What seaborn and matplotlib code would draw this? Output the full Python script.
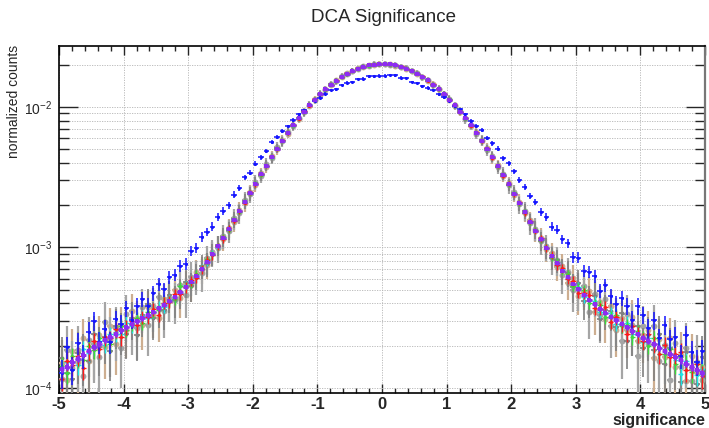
import numpy as np
import pandas as pd
import matplotlib
matplotlib.use("Agg")
import matplotlib.pyplot as plt
import seaborn as sns
from matplotlib.ticker import MultipleLocator, LogLocator, NullFormatter, LogFormatterSciNotation

# Histogram binning: 120 bins on [-5, 5]
X_LO, X_HI, N_BINS = -5.0, 5.0, 120
UNIT = 1e-4  # contents below are in units of 1e-4 (normalized counts)

violet = [1.36, 1.42, 1.53, 1.62, 1.73, 1.83, 1.95, 2.06, 2.18, 2.30, 2.42, 2.57, 2.70, 2.85, 2.99,
          3.13, 3.30, 3.48, 3.68, 3.92, 4.17, 4.46, 4.82, 5.22, 5.72, 6.30, 7.03, 7.90, 8.95, 10.2,
          11.7, 13.5, 15.6, 18.1, 21.1, 24.5, 28.5, 33.1, 38.2, 44.1, 50.6, 57.7, 65.5, 74.0, 83.0,
          92.6, 102.6, 112.8, 123.3, 133.8, 144.1, 154.1, 163.6, 172.4, 180.4, 187.2, 193.0, 197.4, 200.4, 201.9,
          202.3, 200.9, 197.8, 193.3, 187.6, 180.9, 172.8, 164.0, 154.4, 144.3, 134.0, 123.5, 113.0, 102.7, 92.7,
          83.1, 74.0, 65.4, 57.6, 50.4, 43.9, 38.0, 32.8, 28.2, 24.2, 20.8, 17.8, 15.3, 13.2, 11.4,
          9.95, 8.72, 7.70, 6.85, 6.12, 5.53, 5.03, 4.61, 4.25, 3.94, 3.67, 3.43, 3.22, 3.03, 2.86,
          2.70, 2.55, 2.41, 2.28, 2.16, 2.05, 1.94, 1.84, 1.75, 1.66, 1.57, 1.49, 1.41, 1.34, 1.27]

blue = [1.28, 1.96, 1.35, 2.09, 1.70, 2.52, 3.00, 2.12, 2.63, 2.12, 3.08, 2.85, 3.68, 3.06, 3.83,
        4.29, 3.86, 4.73, 5.49, 5.04, 6.15, 6.40, 7.38, 7.68, 9.45, 9.89, 11.9, 12.9, 14.1, 16.6,
        18.2, 20.0, 23.8, 26.5, 31.6, 34.1, 39.4, 44.0, 48.5, 56.1, 61.0, 67.7, 72.8, 80.5, 88.9,
        95.0, 103, 111, 116, 124, 132, 134, 143, 149, 151, 158, 159, 165, 165, 167,
        167, 169, 168, 162, 161, 151, 148, 140, 137, 132, 123, 117, 111, 101, 96,
        88.9, 79.7, 73.5, 68.3, 60.4, 55.0, 50.5, 43.1, 39.8, 34.8, 30.4, 27.0, 23.3, 21.1, 17.9,
        16.5, 14.1, 13.4, 11.4, 10.7, 8.55, 8.48, 6.82, 6.72, 6.26, 4.93, 5.39, 4.50, 3.99, 4.37,
        3.83, 3.06, 3.84, 3.30, 2.66, 3.05, 2.25, 2.82, 2.22, 2.31, 1.70, 2.38, 1.80, 1.53, 1.84]

gray = [1.16, 1.85, 1.38, 1.86, 1.21, 2.20, 2.05, 1.65, 2.94, 2.19, 2.66, 1.93, 3.38, 2.85, 2.69,
        3.76, 2.81, 3.83, 4.42, 3.53, 4.38, 4.24, 5.40, 4.59, 6.18, 6.30, 6.54, 8.37, 9.31, 9.89,
        12.1, 13.2, 16.1, 17.6, 21.8, 24.0, 29.3, 32.4, 39.0, 43.5, 51.5, 56.9, 66.4, 73.1, 84.0,
        91.8, 103.5, 111.6, 124.4, 132.5, 145.2, 152.8, 164.9, 171.1, 181.6, 186.0, 194.2, 196.5, 201.3, 200.8,
        203.4, 199.6, 198.9, 192.1, 188.7, 179.6, 174.0, 162.7, 155.6, 143.1, 135.2, 122.4, 114.1, 101.6, 93.6,
        82.2, 74.9, 64.6, 58.3, 49.7, 44.5, 37.4, 33.4, 27.7, 24.7, 20.3, 18.3, 14.9, 13.6, 11.1,
        10.2, 8.37, 8.16, 6.37, 6.73, 4.98, 5.03, 5.30, 3.49, 4.65, 3.30, 4.29, 2.74, 3.18, 2.15,
        3.38, 2.81, 1.69, 2.74, 2.05, 2.77, 1.55, 2.02, 1.14, 2.08, 1.41, 1.94, 1.13, 1.54, 1.14]

tan = [1.50, 1.14, 1.84, 1.54, 2.25, 1.56, 1.95, 2.37, 1.96, 2.76, 2.06, 2.83, 2.57, 3.56, 3.14,
       2.82, 3.80, 3.31, 3.13, 4.31, 4.17, 5.00, 4.34, 5.48, 5.43, 6.68, 7.03, 7.51, 9.22, 10.2,
       11.4, 13.8, 15.2, 18.5, 20.6, 25.0, 27.9, 33.7, 37.6, 44.8, 49.9, 58.4, 64.7, 74.8, 82.2,
       93.4, 101.8, 113.6, 122.5, 134.6, 143.3, 154.9, 162.8, 173.2, 179.6, 188.0, 192.2, 198.2, 199.6, 202.7,
       201.5, 201.7, 197.0, 194.1, 186.8, 181.7, 172.0, 164.8, 153.6, 145.1, 133.2, 124.3, 112.2, 103.5, 91.9,
       83.9, 73.3, 66.1, 57.0, 51.0, 43.4, 38.5, 32.3, 28.6, 23.8, 21.2, 17.5, 15.6, 13.0, 11.7,
       9.75, 9.07, 7.32, 7.40, 5.63, 6.08, 4.53, 4.84, 4.89, 3.47, 4.11, 3.09, 3.86, 2.58, 3.15,
       2.57, 3.19, 2.17, 2.39, 2.59, 1.64, 2.23, 1.66, 2.28, 1.41, 1.73, 1.12, 1.69, 1.27, 1.40]

dark_gray = [1.63, 1.28, 1.15, 1.78, 1.73, 1.56, 2.44, 1.96, 2.29, 1.84, 2.78, 2.57, 2.43, 3.14, 2.39,
             3.29, 3.96, 3.13, 3.68, 3.61, 4.59, 4.24, 4.82, 5.64, 5.32, 6.30, 7.38, 7.66, 8.95, 10.4,
             11.9, 13.3, 15.9, 17.8, 21.4, 24.2, 28.9, 32.8, 38.6, 43.7, 51.0, 57.2, 66.0, 73.5, 83.6,
             92.1, 103.1, 112.2, 123.9, 133.1, 144.7, 153.5, 164.3, 171.8, 181.0, 186.6, 193.6, 197.0, 200.9, 201.4,
             202.9, 200.3, 198.3, 192.7, 188.2, 180.3, 173.4, 163.4, 155.0, 143.7, 134.6, 123.0, 113.6, 102.2, 93.2,
             82.6, 74.5, 65.0, 58.0, 50.0, 44.2, 37.7, 33.1, 27.9, 24.5, 20.5, 18.1, 15.1, 13.4, 11.2,
             9.95, 8.46, 8.09, 6.85, 6.61, 5.25, 5.63, 4.15, 4.25, 4.53, 3.12, 3.60, 3.54, 2.73, 3.43,
             2.16, 2.55, 2.77, 1.94, 2.38, 1.85, 2.43, 1.47, 1.93, 1.66, 1.10, 1.79, 1.34, 1.07, 1.65]

red = [1.16, 1.56, 1.45, 1.70, 1.38, 1.83, 2.15, 1.90, 2.29, 2.25, 2.61, 2.31, 2.70, 3.02, 2.81,
       3.19, 3.20, 3.65, 3.31, 4.04, 4.09, 4.64, 4.63, 5.22, 5.83, 6.11, 7.03, 8.14, 8.77, 10.2,
       11.5, 13.7, 15.4, 18.3, 20.9, 24.8, 28.2, 33.5, 37.9, 44.5, 50.2, 58.1, 65.0, 74.6, 82.5,
       93.1, 102.1, 113.3, 122.8, 134.3, 143.7, 154.6, 163.2, 173.5, 180.0, 188.2, 193.6, 198.8, 201.5, 203.8,
       203.5, 202.6, 198.6, 194.4, 187.0, 182.0, 172.3, 165.1, 153.9, 145.0, 133.5, 124.1, 112.5, 103.3, 92.2,
       83.6, 73.6, 65.9, 57.2, 50.8, 43.6, 38.3, 32.5, 28.5, 23.9, 21.0, 17.6, 15.5, 13.1, 11.6,
       9.95, 8.89, 7.47, 7.12, 6.00, 5.81, 4.78, 4.75, 4.59, 3.70, 3.67, 3.77, 2.96, 3.18, 2.86,
       2.43, 2.75, 2.41, 2.17, 2.42, 2.05, 1.75, 2.02, 1.66, 1.74, 1.81, 1.34, 1.41, 1.47, 1.21]

green = [1.43, 1.28, 1.68, 1.62, 1.59, 1.98, 1.85, 2.27, 2.18, 2.07, 2.52, 2.78, 2.59, 2.85, 3.14,
         2.91, 3.50, 3.48, 3.57, 4.04, 4.17, 4.28, 5.30, 5.22, 5.61, 6.43, 7.03, 8.22, 8.86, 10.2,
         11.8, 13.4, 15.7, 18.0, 21.2, 24.4, 28.6, 33.0, 38.3, 44.0, 50.7, 57.6, 65.6, 73.9, 83.1,
         92.5, 102.7, 112.7, 123.4, 133.7, 144.2, 154.0, 163.7, 172.3, 180.5, 187.1, 193.1, 197.3, 200.5, 201.8,
         202.4, 200.8, 197.9, 193.2, 187.7, 180.8, 172.9, 163.9, 154.5, 144.2, 134.1, 123.4, 113.1, 102.6, 92.8,
         83.0, 74.1, 65.3, 57.7, 50.3, 44.0, 37.9, 32.9, 28.1, 24.3, 20.7, 17.9, 15.2, 13.3, 11.3,
         9.95, 8.55, 7.93, 6.85, 6.43, 5.36, 5.13, 4.98, 4.04, 3.94, 3.89, 3.19, 3.22, 3.33, 2.75,
         2.81, 2.30, 2.53, 2.28, 1.99, 2.26, 1.94, 1.75, 1.89, 1.49, 1.65, 1.49, 1.30, 1.47, 1.27]

cyan = [1.29, 1.53, 1.53, 1.46, 1.90, 1.78, 1.95, 2.16, 2.03, 2.44, 2.42, 2.44, 2.92, 2.76, 2.99,
        3.26, 3.17, 3.48, 3.79, 3.80, 4.25, 4.46, 4.72, 5.38, 5.72, 6.11, 7.17, 7.90, 9.04, 10.1,
        11.6, 13.6, 15.5, 18.2, 21.0, 24.6, 28.4, 33.2, 38.1, 44.2, 50.5, 57.8, 65.4, 74.1, 82.9,
        92.7, 102.5, 112.9, 123.2, 133.9, 144.0, 154.2, 163.5, 172.5, 180.3, 187.3, 192.9, 197.5, 200.3, 202.0,
        202.2, 201.0, 197.7, 193.4, 187.5, 181.0, 172.7, 164.1, 154.3, 144.4, 133.9, 123.6, 112.9, 102.8, 92.6,
        83.2, 73.9, 65.5, 57.5, 50.5, 43.8, 38.1, 32.7, 28.3, 24.1, 20.9, 17.7, 15.4, 13.1, 11.5,
        9.95, 8.89, 7.55, 7.06, 5.94, 5.53, 5.23, 4.43, 4.25, 4.14, 3.49, 3.43, 3.41, 2.85, 2.86,
        2.92, 2.42, 2.41, 2.12, 2.27, 2.05, 1.75, 2.02, 1.75, 1.58, 1.26, 1.56, 1.41, 1.23, 1.37]

# Number of entries behind each normalized histogram (sets the Poisson errors)
series_names = ["tan", "gray", "dark gray", "cyan", "green", "red", "blue", "violet"]
series_values = [tan, gray, dark_gray, cyan, green, red, blue, violet]
series_entries = [30000, 22000, 35000, 300000, 300000, 250000, 150000, 2000000]

styles = {
    "tan":       dict(color="#cdae90", lw=1.6, marker="o", s=18),
    "gray":      dict(color="#a5a5a5", lw=1.6, marker="o", s=18),
    "dark gray": dict(color="#808080", lw=1.2, marker="o", s=8),
    "cyan":      dict(color="#19e6e6", lw=1.0, marker="o", s=5),
    "green":     dict(color="#3bdc3b", lw=1.0, marker="o", s=5),
    "red":       dict(color="#ff1a1a", lw=1.0, marker="o", s=5),
    "blue":      dict(color="#1414ff", lw=1.1, marker="o", s=5),
    "violet":    dict(color="#8e2cf2", lw=1.9, marker="s", s=12),
}

edges = np.linspace(X_LO, X_HI, N_BINS + 1)
centers = 0.5 * (edges[:-1] + edges[1:])
half_width = 0.5 * (edges[1] - edges[0])

frames = []
for name, vals, entries in zip(series_names, series_values, series_entries):
    v = np.asarray(vals) * UNIT
    frames.append(pd.DataFrame({"significance": centers, "counts": v,
                                "err": np.sqrt(v / entries), "sample": name}))
df = pd.concat(frames, ignore_index=True)

sns.set_style("ticks")
plt.rcParams["font.family"] = ["Liberation Sans", "DejaVu Sans"]
plt.rcParams["mathtext.default"] = "regular"
plt.rcParams["axes.unicode_minus"] = False

fig = plt.figure(figsize=(7.09, 4.28), dpi=100)
ax = fig.add_axes([59 / 709, 1 - 393 / 428, (705 - 59) / 709, (393 - 46) / 428])
ax.set_yscale("log", nonpositive="clip")

for z, name in enumerate(series_names):
    st = styles[name]
    d = df[df["sample"] == name]
    ax.errorbar(d["significance"], d["counts"], xerr=half_width, yerr=d["err"],
                fmt="none", ecolor=st["color"], elinewidth=st["lw"], capsize=0,
                zorder=3 + 2 * z)
    sns.scatterplot(data=d, x="significance", y="counts", ax=ax, color=st["color"],
                    marker=st["marker"], s=st["s"], linewidth=0, zorder=4 + 2 * z,
                    legend=False)

ax.set_xlim(X_LO, X_HI)
ax.set_ylim(9.21e-5, 2.717e-2)
ax.set_xlabel("")
ax.set_ylabel("")

ax.xaxis.set_major_locator(MultipleLocator(1))
ax.xaxis.set_minor_locator(MultipleLocator(0.2))
ax.yaxis.set_major_locator(LogLocator(base=10, numticks=10))
ax.yaxis.set_minor_locator(LogLocator(base=10, subs=np.arange(2, 10), numticks=30))
ax.yaxis.set_major_formatter(LogFormatterSciNotation())
ax.yaxis.set_minor_formatter(NullFormatter())

ax.tick_params(axis="x", which="major", direction="in", length=6.5, width=1.0,
               top=True, bottom=True, labelsize=12, pad=3)
ax.tick_params(axis="x", which="minor", direction="in", length=3.5, width=1.0,
               top=True, bottom=True)
ax.tick_params(axis="y", which="major", direction="in", length=14, width=1.0,
               left=True, right=True, labelsize=10, pad=5)
ax.tick_params(axis="y", which="minor", direction="in", length=7, width=1.0,
               left=True, right=True)
for lab in ax.get_xticklabels():
    lab.set_fontweight("bold")

grid_kw = dict(color="#b4b4b4", linestyle=(0, (1.5, 1.5)), linewidth=0.6)
ax.grid(True, which="major", axis="x", **grid_kw)
ax.grid(True, which="both", axis="y", **grid_kw)
ax.set_axisbelow(True)

for side in ["left", "top", "bottom"]:
    ax.spines[side].set_color("black")
    ax.spines[side].set_linewidth(1.2)
ax.spines["right"].set_color("#777777")
ax.spines["right"].set_linewidth(1.6)
for t in ax.yaxis.get_major_ticks() + ax.yaxis.get_minor_ticks():
    t.tick2line.set_color("#8a8a8a")

fig.text(383 / 709, 1 - 18 / 428, "DCA Significance", ha="center", va="center", fontsize=13.5)
fig.text(14 / 709, 1 - 45 / 428, "normalized counts", rotation=90, ha="center", va="top", fontsize=10)
fig.text(705 / 709, 1 - 425 / 428, "significance", ha="right", va="baseline",
         fontsize=11.5, fontweight="bold")

fig.savefig("out.png", dpi=100)
